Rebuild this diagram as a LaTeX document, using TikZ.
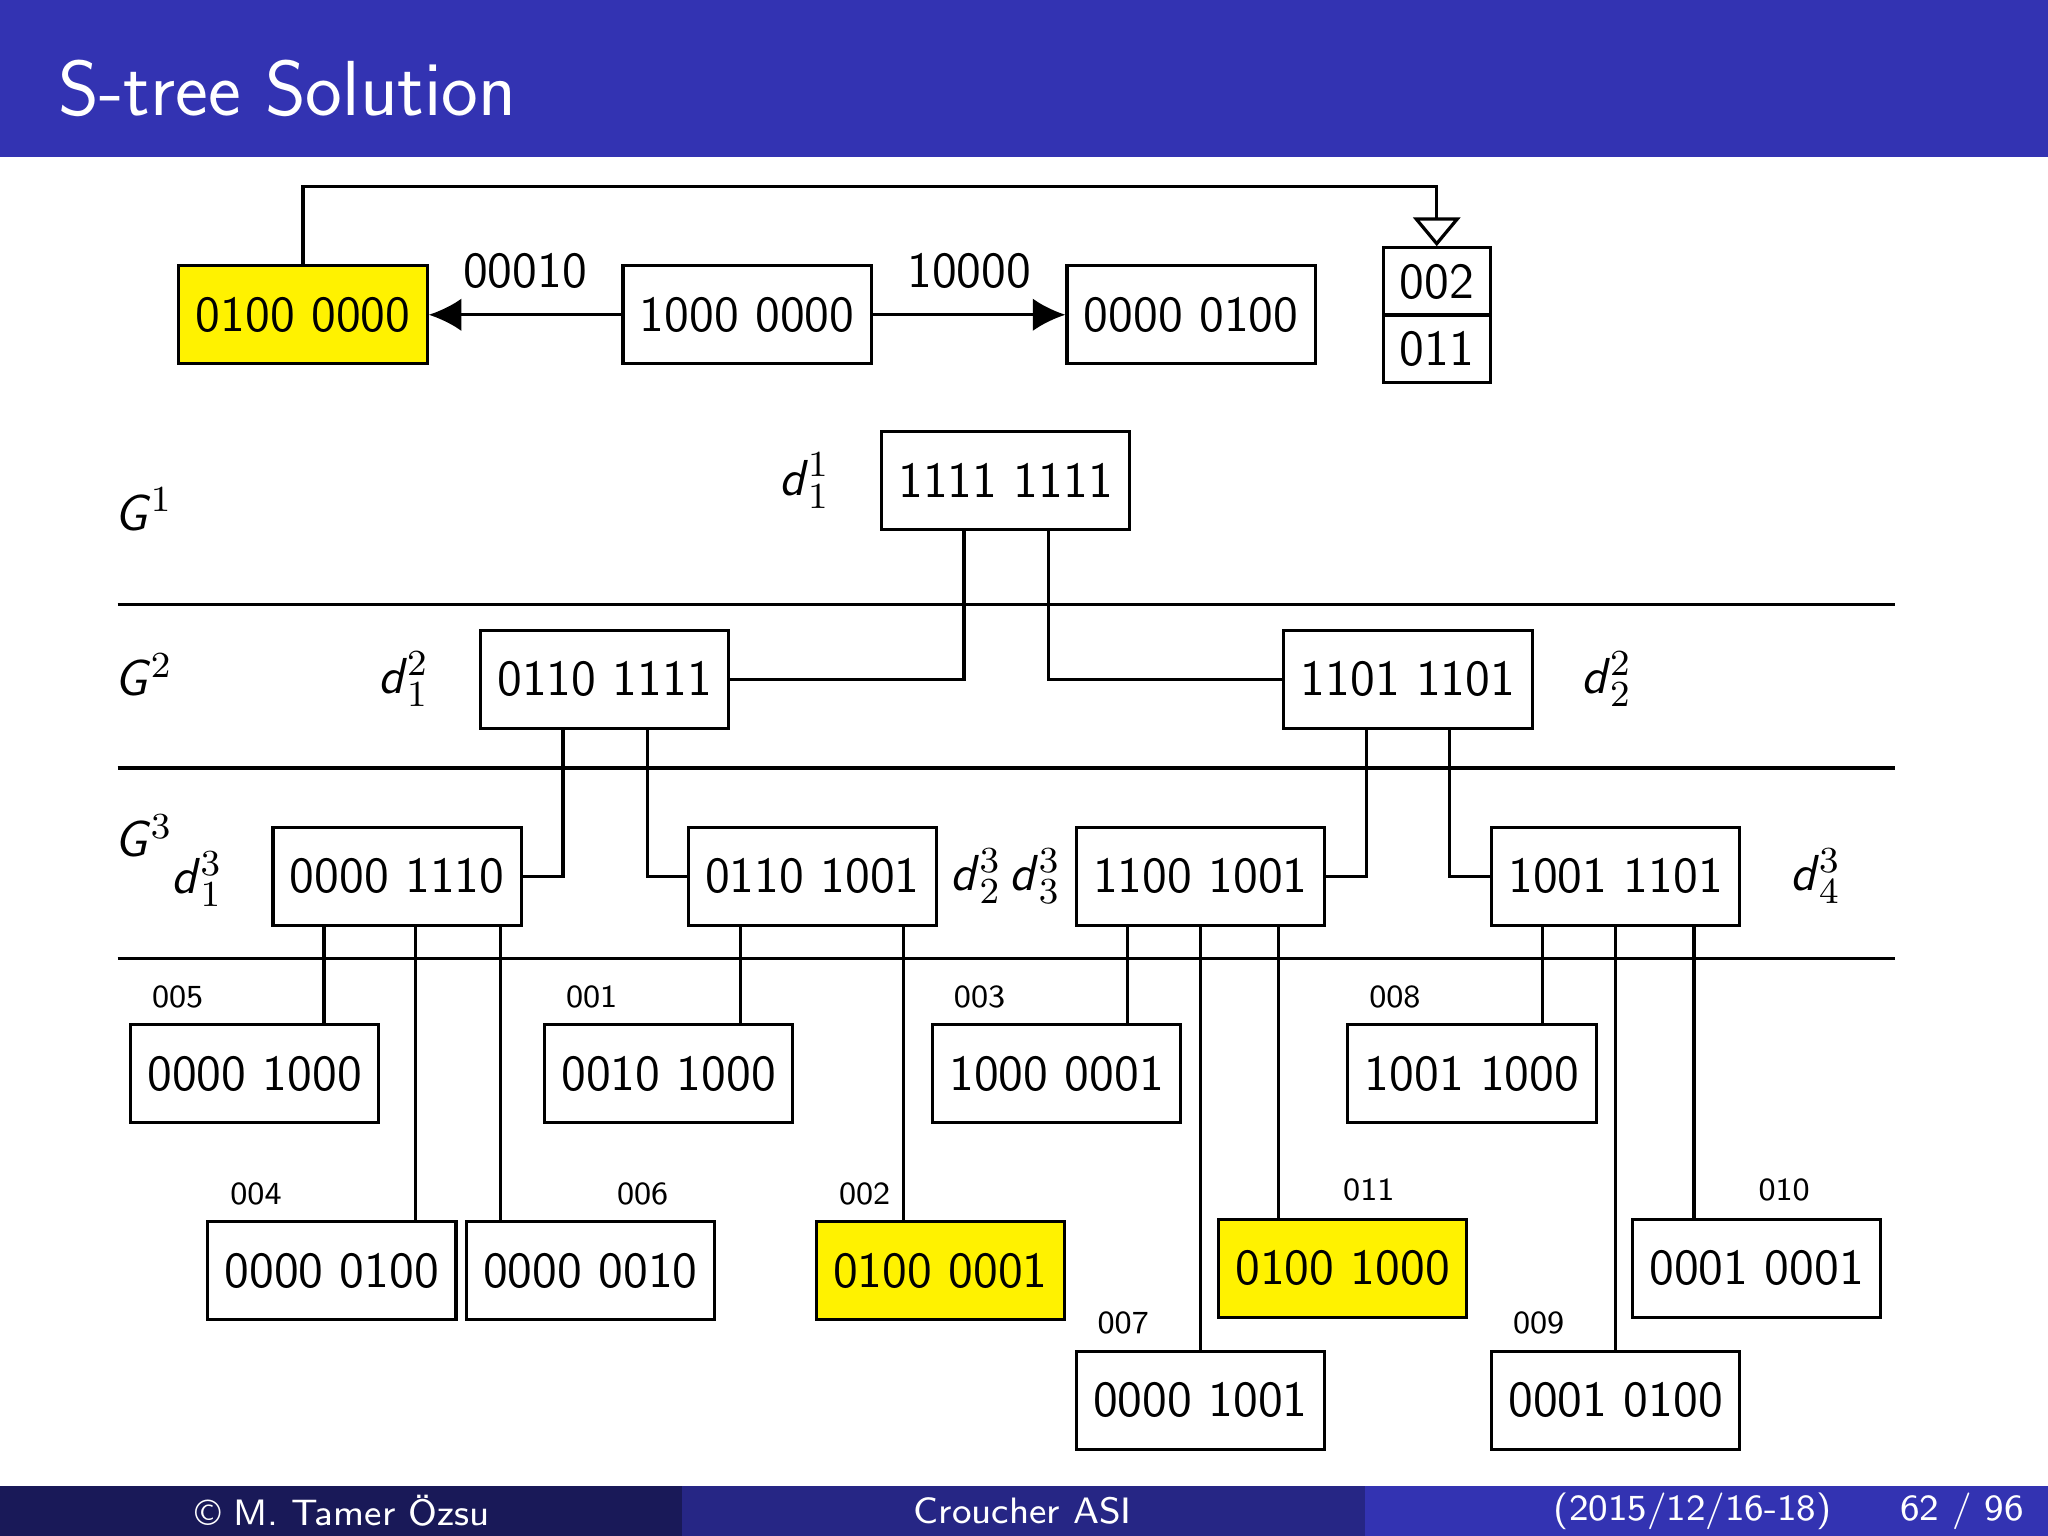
\documentclass[tikz,border=0pt]{standalone}
\usepackage{tikz}
\usetikzlibrary{positioning,arrows.meta}
\definecolor{barblue}{RGB}{51,51,178}
\definecolor{footdark}{RGB}{25,25,88}
\definecolor{footmid}{RGB}{38,38,133}
\definecolor{hilite}{RGB}{255,242,0}
\newcommand{\dsub}[2]{\textsf{\textit{d}}$^{#2}_{#1}$}
\newcommand{\gsup}[1]{\textsf{\textit{G}}$^{#1}$}
\begin{document}
\begin{tikzpicture}[x=0.01cm,y=-0.01cm,line width=0.7pt,
    box/.style={draw,fill=white,minimum width=1.9cm,minimum height=0.75cm,inner sep=0pt,font=\fontsize{11}{13}\sffamily},
    hit/.style={box,fill=hilite},
    half/.style={draw,minimum width=0.82cm,minimum height=0.515cm,inner sep=0pt,font=\fontsize{11}{13}\sffamily},
    tag/.style={font=\fontsize{7}{9}\sffamily},
    lvl/.style={inner sep=1pt,font=\fontsize{11}{13}\sffamily},
    foot/.style={text=white,font=\fontsize{8}{10}\sffamily}]
  \useasboundingbox (0,0) rectangle (1568,1176);
  % title and footer bars
  \fill[barblue] (0,0) rectangle (1568,120);
  \node[text=white,anchor=west,font=\fontsize{17}{20}\sffamily] (title) at (32,68) {S-tree Solution};
  \fill[footdark] (0,1138) rectangle (522,1176);
  \fill[footmid] (522,1138) rectangle (1045,1176);
  \fill[barblue] (1045,1138) rectangle (1568,1176);
  \node[foot] (fa) at (262,1157) {\textcopyright{} M. Tamer Özsu};
  \node[foot] (fb) at (783,1157) {Croucher ASI};
  \node[foot] (fc) at (1296,1157) {(2015/12/16-18)};
  \node[foot] (fd) at (1502,1157) {62 / 96};

  % top row
  \node[hit] (ya) at (232,241) {0100 0000};
  \node[box] (ra) at (572,241) {1000 0000};
  \node[box] (rb) at (912,241) {0000 0100};
  \node[half] (pa) at (1100,215.5) {002};
  \node[half] (pb) at (1100,267) {011};
  \draw[-{Latex[length=2.5mm,width=2.5mm]}] (ra) -- node[above=2pt,font=\fontsize{11}{13}\sffamily] {00010} (ya);
  \draw[-{Latex[length=2.5mm,width=2.5mm]}] (ra) -- node[above=2pt,font=\fontsize{11}{13}\sffamily] {10000} (rb);
  \draw[-{Triangle[open,length=2.2mm,width=3.6mm]}] (ya.north) |- (1100,143) -- (pa.north);

  % level lines
  \foreach \y in {463,588,734}
    \draw (90,\y) -- (1451,\y);
  \node[lvl] (ga) at (110,390) {\gsup{1}};
  \node[lvl] (gb) at (110,517) {\gsup{2}};
  \node[lvl] (gc) at (110,640) {\gsup{3}};

  % index nodes
  \node[box] (r) at (770,368) {1111 1111};
  \node[lvl] (dr) at (616,368) {\dsub{1}{1}};
  \node[box] (m1) at (463,520) {0110 1111};
  \node[box] (m2) at (1078,520) {1101 1101};
  \node[lvl] (dm1) at (309,520) {\dsub{1}{2}};
  \node[lvl] (dm2) at (1230,520) {\dsub{2}{2}};
  \node[box] (n1) at (304,671) {0000 1110};
  \node[box] (n2) at (622,671) {0110 1001};
  \node[box] (n3) at (919,671) {1100 1001};
  \node[box] (n4) at (1237,671) {1001 1101};
  \node[lvl] (dn1) at (151,673) {\dsub{1}{3}};
  \node[lvl] (dn2) at (770,671) {\dsub{2}{3}\,\dsub{3}{3}};
  \node[lvl] (dn4) at (1390,671) {\dsub{4}{3}};

  % leaves
  \node[box] (l5) at (195,822) {0000 1000};
  \node[box] (l1) at (512,822) {0010 1000};
  \node[box] (l3) at (809,822) {1000 0001};
  \node[box] (l8) at (1127,822) {1001 1000};
  \node[box] (l4) at (254,973) {0000 0100};
  \node[box] (l6) at (452,973) {0000 0010};
  \node[hit] (l2) at (720,973) {0100 0001};
  \node[hit] (l11) at (1028,971) {0100 1000};
  \node[box] (l10) at (1345,971) {0001 0001};
  \node[box] (l7) at (919,1072) {0000 1001};
  \node[box] (l9) at (1237,1072) {0001 0100};
  \node[tag] (t5) at (136,763) {005};
  \node[tag] (t1) at (453,763) {001};
  \node[tag] (t3) at (750,763) {003};
  \node[tag] (t8) at (1068,763) {008};
  \node[tag] (t4) at (196,914) {004};
  \node[tag] (t6) at (492,914) {006};
  \node[tag] (t2) at (662,914) {002};
  \node[tag] (t11) at (1048,911) {011};
  \node[tag] (t10) at (1366,911) {010};
  \node[tag] (t7) at (860,1013) {007};
  \node[tag] (t9) at (1178,1013) {009};

  % tree edges
  \draw (r.south -| 738,0) |- (m1.east);
  \draw (r.south -| 803,0) |- (m2.west);
  \draw (m1.south -| 431,0) |- (n1.east);
  \draw (m1.south -| 496,0) |- (n2.west);
  \draw (m2.south -| 1046,0) |- (n3.east);
  \draw (m2.south -| 1110,0) |- (n4.west);
  \draw (n1.south -| 248,0) -- (l5.north -| 248,0);
  \draw (n1.south -| 318,0) -- (l4.north -| 318,0);
  \draw (n1.south -| 383,0) -- (l6.north -| 383,0);
  \draw (n2.south -| 567,0) -- (l1.north -| 567,0);
  \draw (n2.south -| 692,0) -- (l2.north -| 692,0);
  \draw (n3.south -| 863,0) -- (l3.north -| 863,0);
  \draw (n3.south) -- (l7.north);
  \draw (n3.south -| 979,0) -- (l11.north -| 979,0);
  \draw (n4.south -| 1181,0) -- (l8.north -| 1181,0);
  \draw (n4.south) -- (l9.north);
  \draw (n4.south -| 1297,0) -- (l10.north -| 1297,0);
\end{tikzpicture}
\end{document}
